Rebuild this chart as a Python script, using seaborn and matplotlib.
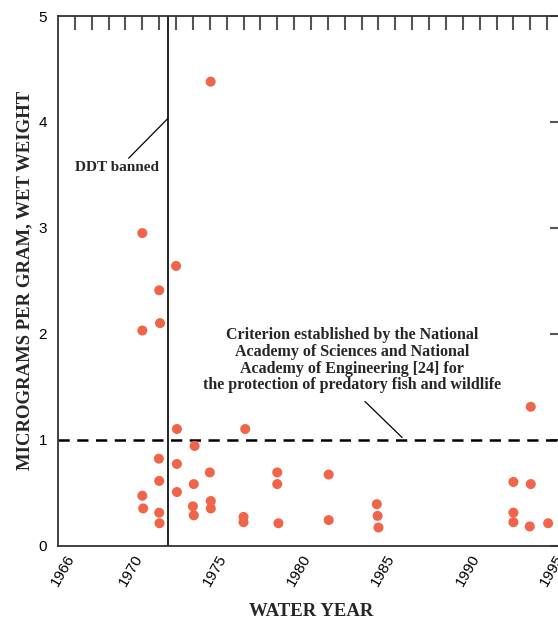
import matplotlib
matplotlib.use("Agg")
import matplotlib.pyplot as plt
import seaborn as sns
import numpy as np
import pandas as pd

# ---- data ----
years = [1970.0, 1970.0, 1970.0, 1970.05,
         1971.0, 1971.05, 1970.98, 1971.0, 1971.0, 1971.02,
         1972.0, 1972.05, 1972.05, 1972.05,
         1973.1, 1973.05, 1973.0, 1973.05,
         1974.05, 1974.0, 1974.06, 1974.06,
         1976.1, 1976.0, 1976.0,
         1978.0, 1978.0, 1978.07,
         1981.05, 1981.05,
         1983.9, 1983.95, 1984.0,
         1992.0, 1992.0, 1992.0,
         1993.03, 1993.03, 1992.97,
         1994.06]
conc = [2.95, 2.03, 0.47, 0.35,
        2.41, 2.10, 0.82, 0.61, 0.31, 0.21,
        2.64, 1.10, 0.77, 0.505,
        0.94, 0.58, 0.37, 0.285,
        4.38, 0.69, 0.42, 0.35,
        1.10, 0.27, 0.22,
        0.69, 0.58, 0.21,
        0.67, 0.24,
        0.39, 0.28, 0.17,
        0.60, 0.31, 0.22,
        1.31, 0.58, 0.18,
        0.21]
ddt_ban_year = 1971.5
criterion = 1.0
xtick_years = list(range(1966, 1996))
xtick_label_years = [1966, 1970, 1975, 1980, 1985, 1990, 1995]
ytick_vals = [0, 1, 2, 3, 4, 5]

df = pd.DataFrame({"year": years, "conc": conc})

sns.set_style("white")
plt.rcParams['font.family'] = ['Liberation Sans', 'DejaVu Sans']

W, H = 558, 621
fig = plt.figure(figsize=(W / 100, H / 100), dpi=100)
left, right, top, bottom = 58, 564, 16, 545.5
ax = fig.add_axes([left / W, (H - bottom) / H, (right - left) / W, (bottom - top) / H])

sns.scatterplot(data=df, x="year", y="conc", ax=ax, color="#F0654A",
                s=52, edgecolor="none", zorder=3, legend=False)

ax.axvline(ddt_ban_year, color="#222222", lw=1.4, zorder=2)
ax.axhline(criterion, color="black", lw=1.8, ls=(0, (4.5, 3)), zorder=2)

ax.set_xlim(1965, 1995)
ax.set_ylim(0, 5)
ax.set_xticks(xtick_years)
ax.set_xticklabels([str(y) if y in xtick_label_years else "" for y in xtick_years],
                   rotation=60, ha="right", va="baseline", rotation_mode="anchor")
ax.set_yticks(ytick_vals)
ax.set_yticklabels([str(v) for v in ytick_vals])
ax.tick_params(axis="both", direction="in", length=10, width=1.5, color="#555555",
               top=True, right=True, labelsize=11, labelcolor="black")
ax.tick_params(axis="x", pad=9)
ax.tick_params(axis="y", pad=8)
for sp in ax.spines.values():
    sp.set_visible(True)
    sp.set_color("#333333")
    sp.set_linewidth(1.3)

serif = dict(family="Liberation Serif", fontweight="bold")
ax.set_xlabel("WATER YEAR", fontsize=13.5, labelpad=10, **serif)
ax.set_ylabel("MICROGRAMS PER GRAM, WET WEIGHT", fontsize=13.5, labelpad=4, **serif)

ax.annotate("DDT banned", xy=(ddt_ban_year, 4.03), xytext=(1968.5, 3.565),
            ha="center", va="center", fontsize=11, **serif,
            arrowprops=dict(arrowstyle="-", color="black", lw=0.9,
                            shrinkA=0, shrinkB=0, relpos=(0.6, 1.0)))
ax.text(1982.42, 1.75,
        "Criterion established by the National\nAcademy of Sciences and National\n"
        "Academy of Engineering [24] for\nthe protection of predatory fish and wildlife",
        ha="center", va="center", fontsize=11.5, linespacing=1.06, **serif)
ax.annotate("", xy=(1985.4, criterion + 0.02), xytext=(1983.2, 1.36),
            arrowprops=dict(arrowstyle="-", color="black", lw=0.9,
                            shrinkA=0, shrinkB=0))

fig.savefig("out.png", dpi=100)
